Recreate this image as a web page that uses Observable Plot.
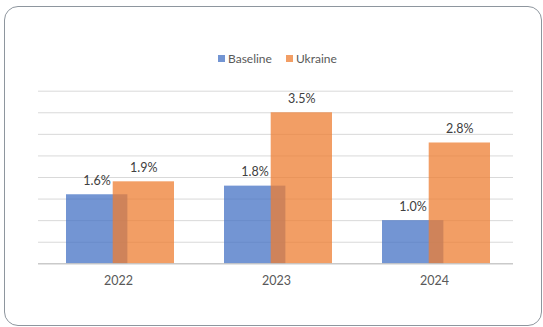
<!DOCTYPE html>
<html>
<head>
<meta charset="utf-8">
<script src="https://cdn.jsdelivr.net/npm/d3@7"></script>
<script src="https://cdn.jsdelivr.net/npm/@observablehq/plot@0.6"></script>
<style>
  html, body { margin: 0; padding: 0; background: #fff; }
  #page { position: relative; width: 543px; height: 327px; overflow: hidden; font-family: Lato, "Open Sans", sans-serif; }
  #frame { position: absolute; left: 4px; top: 6px; width: 538px; height: 320px; box-sizing: border-box; border: 1px solid #8e969e; border-radius: 14px; }
  #legend { position: absolute; left: 218px; top: 51px; display: flex; align-items: center; font-size: 12px; color: #595959; }
  #legend .item { display: flex; align-items: center; margin-right: 14px; }
  #legend .sw { width: 7px; height: 7px; margin-right: 3px; }
  #chart { position: absolute; left: 0; top: 0; }
</style>
</head>
<body>
<div id="page">
  <div id="frame"></div>
  <div id="legend"></div>
  <div id="chart"></div>
</div>
<script>
// ---- data ----
const years = ["2022", "2023", "2024"];
const seriesNames = ["Baseline", "Ukraine"];
const baselineValues = [1.6, 1.8, 1.0];
const ukraineValues = [1.9, 3.5, 2.8];
const yDomain = [0, 4];

// ---- styles ----
const colors = { Baseline: "#4472C4", Ukraine: "#ED7D31" };
const barOpacity = 0.75;

const baselineRows = years.map((y, i) => ({ year: y, series: "Baseline", value: baselineValues[i] }));
const ukraineRows = years.map((y, i) => ({ year: y, series: "Ukraine", value: ukraineValues[i] }));
const fmt = d => d.value.toFixed(1) + "%";

// legend
const legend = document.getElementById("legend");
seriesNames.forEach(name => {
  const item = document.createElement("div");
  item.className = "item";
  const sw = document.createElement("div");
  sw.className = "sw";
  sw.style.background = colors[name];
  sw.style.opacity = barOpacity;
  const label = document.createElement("span");
  label.textContent = name;
  item.appendChild(sw);
  item.appendChild(label);
  legend.appendChild(item);
});

const chart = Plot.plot({
  width: 543,
  height: 327,
  marginTop: 90.7,
  marginBottom: 63.7,
  marginLeft: 38,
  marginRight: 30,
  style: { fontFamily: "Lato, 'Open Sans', sans-serif", fontSize: "12px", color: "#595959", background: "transparent" },
  x: { type: "band", domain: years, padding: 0, axis: null },
  y: { domain: yDomain, axis: null },
  marks: [
    Plot.gridY({ ticks: 8, stroke: "#d9d9d9", strokeOpacity: 1 }),
    Plot.barY(baselineRows, { x: "year", y: "value", fill: colors.Baseline, fillOpacity: barOpacity, insetLeft: 27, insetRight: 69.6 }),
    Plot.barY(ukraineRows, { x: "year", y: "value", fill: colors.Ukraine, fillOpacity: barOpacity, insetLeft: 73.7, insetRight: 23 }),
    Plot.ruleY([0], { stroke: "#bfbfbf" }),
    Plot.text(baselineRows, { x: "year", y: "value", text: fmt, dx: -21.4, dy: -14, fontSize: 12.5, fill: "#404040" }),
    Plot.text(ukraineRows, { x: "year", y: "value", text: fmt, dx: 25.3, dy: -14, fontSize: 12.5, fill: "#404040" }),
    Plot.axisX({ tickSize: 0, tickPadding: 12, fontSize: 12.5, fill: "#595959", label: null })
  ]
});
document.getElementById("chart").appendChild(chart);
</script>
</body>
</html>
